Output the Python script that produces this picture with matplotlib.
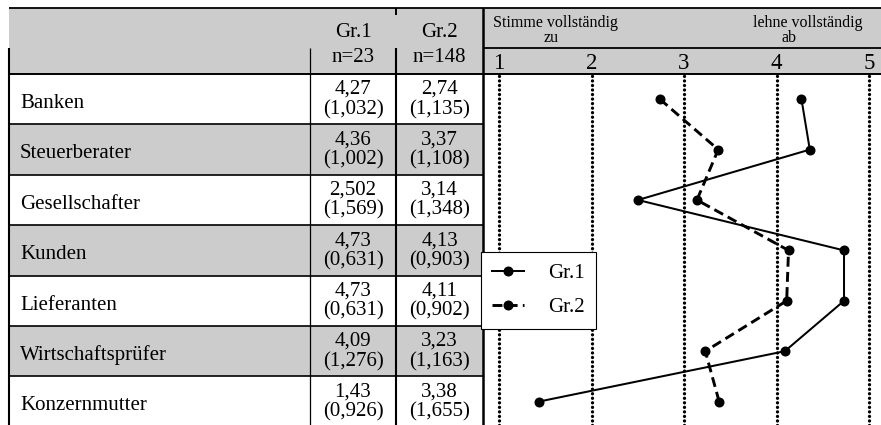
import matplotlib
matplotlib.use("Agg")
import matplotlib.pyplot as plt
from matplotlib.lines import Line2D
from matplotlib.legend_handler import HandlerLine2D
from matplotlib.transforms import blended_transform_factory

plt.rcParams['font.family'] = ['Liberation Serif', 'DejaVu Serif']

# ---------------- data ----------------
categories = ["Banken", "Steuerberater", "Gesellschafter", "Kunden",
              "Lieferanten", "Wirtschaftsprüfer", "Konzernmutter"]
gr1_mean = [4.27, 4.36, 2.502, 4.73, 4.73, 4.09, 1.43]
gr1_sd = [1.032, 1.002, 1.569, 0.631, 0.631, 1.276, 0.926]
gr2_mean = [2.74, 3.37, 3.14, 4.13, 4.11, 3.23, 3.38]
gr2_sd = [1.135, 1.108, 1.348, 0.903, 0.902, 1.163, 1.655]
group_labels = ["Gr.1", "Gr.2"]
group_n = ["n=23", "n=148"]
scale_ticks = [1, 2, 3, 4, 5]
scale_left = "Stimme vollständig"
scale_left2 = "zu"
scale_right = "lehne vollständig"
scale_right2 = "ab"


def de(v):
    return f"{v:g}".replace('.', ',')


# ---------------- layout (pixels) ----------------
W, H = 881, 425
fig = plt.figure(figsize=(W / 100, H / 100), dpi=100)
bg = fig.add_axes([0, 0, 1, 1])
bg.set_xlim(0, W)
bg.set_ylim(H, 0)
bg.set_axis_off()

GRAY = '#cccccc'
x_left, x_c1, x_c2, x_chart = 9, 310, 396, 483
y_top, y_mid, y_head = 8, 48, 74
row_h = 50.4
nrows = len(categories)
fs = 15.0

# header background
bg.add_patch(plt.Rectangle((x_left, y_top), W - x_left, y_head - y_top,
                           facecolor=GRAY, edgecolor='none', zorder=0))
# row backgrounds
for i in range(nrows):
    if i % 2 == 1:
        bg.add_patch(plt.Rectangle((x_left, y_head + i * row_h), x_chart - x_left, row_h,
                                   facecolor=GRAY, edgecolor='none', zorder=0))

k = dict(color='black', solid_capstyle='butt', zorder=2)
bg.plot([x_left, W], [y_top, y_top], lw=1.3, **k)
bg.plot([x_chart, W], [y_mid, y_mid], lw=1.3, **k)
bg.plot([x_left, W], [y_head, y_head], lw=1.4, **k)
for i in range(1, nrows + 1):
    yy = y_head + i * row_h
    bg.plot([x_left, x_chart], [yy, yy], lw=1.2, **k)
bg.plot([x_left, x_left], [y_mid, H + 5], lw=1.5, **k)
bg.plot([x_c1, x_c1], [y_mid, H + 5], lw=0.9, **k)
bg.plot([x_c2, x_c2], [y_top, y_top + 7], lw=1.4, **k)
bg.plot([x_c2, x_c2], [y_mid, H + 5], lw=1.5, **k)
bg.plot([x_chart, x_chart], [y_top, H + 5], lw=1.8, **k)

# header texts
cx1 = (x_c1 + x_c2) / 2
cx2 = (x_c2 + x_chart) / 2
for cx, g, n in zip([cx1, cx2], group_labels, group_n):
    bg.text(cx, 37, g, ha='center', va='baseline', fontsize=fs)
    bg.text(cx, 62, n, ha='center', va='baseline', fontsize=fs)

bg.text(555, 27, scale_left, ha='center', va='baseline', fontsize=11.5)
bg.text(551, 42, scale_left2, ha='center', va='baseline', fontsize=11.5)
bg.text(808, 27, scale_right, ha='center', va='baseline', fontsize=11.5)
bg.text(789, 42, scale_right2, ha='center', va='baseline', fontsize=11.5)

# row texts
for i, cat in enumerate(categories):
    top = y_head + i * row_h
    bg.text(20, top + 34, cat, ha='left', va='baseline', fontsize=fs)
    bg.text(cx1, top + 20, de(gr1_mean[i]), ha='center', va='baseline', fontsize=fs)
    bg.text(cx1, top + 40, "(" + de(gr1_sd[i]) + ")", ha='center', va='baseline', fontsize=fs)
    bg.text(cx2, top + 20, de(gr2_mean[i]), ha='center', va='baseline', fontsize=fs)
    bg.text(cx2, top + 40, "(" + de(gr2_sd[i]) + ")", ha='center', va='baseline', fontsize=fs)

# ---------------- chart ----------------
px1, px5 = 499, 869
ppu = (px5 - px1) / 4.0
ax = fig.add_axes([x_chart / W, 0, (W - x_chart) / W, (H - y_head) / H])
ax.set_xlim(1 - (px1 - x_chart) / ppu, 5 + (W - px5) / ppu)
ax.set_ylim((H - y_head) / row_h - 0.5, -0.5)
ax.set_axis_off()
ax.patch.set_visible(False)

for t in scale_ticks:
    ax.axvline(t, color='black', lw=2.4, linestyle=(0, (0.01, 1.35)),
               dash_capstyle='round', zorder=1)

rows = list(range(nrows))
l1, = ax.plot(gr1_mean, rows, color='black', lw=1.45, marker='o', ms=6.2, zorder=3)
l2, = ax.plot(gr2_mean, rows, color='black', lw=2.1, linestyle=(0, (3.4, 1.8)),
              marker='o', ms=6.2, zorder=3)

tr = blended_transform_factory(ax.transData, bg.transData)
for t in scale_ticks:
    ax.text(t, 69, str(t), transform=tr, ha='center', va='baseline', fontsize=16.5)


class EndMarker(HandlerLine2D):
    def get_xdata(self, legend, xdescent, ydescent, width, height, fontsize):
        return [-xdescent, -xdescent + width], [-xdescent + width]


leg = ax.legend(handles=[l1, l2], labels=group_labels, loc='upper left',
                bbox_to_anchor=(481 / W, 1 - 252 / H), bbox_transform=fig.transFigure,
                borderaxespad=0, frameon=True, fancybox=False, edgecolor='black',
                framealpha=1, prop={'size': 15}, handlelength=1.5, handletextpad=1.15,
                borderpad=0.55, labelspacing=0.7,
                handler_map={l1: EndMarker(), l2: EndMarker()})
leg.get_frame().set_linewidth(0.8)

fig.savefig('out.png', dpi=100)
